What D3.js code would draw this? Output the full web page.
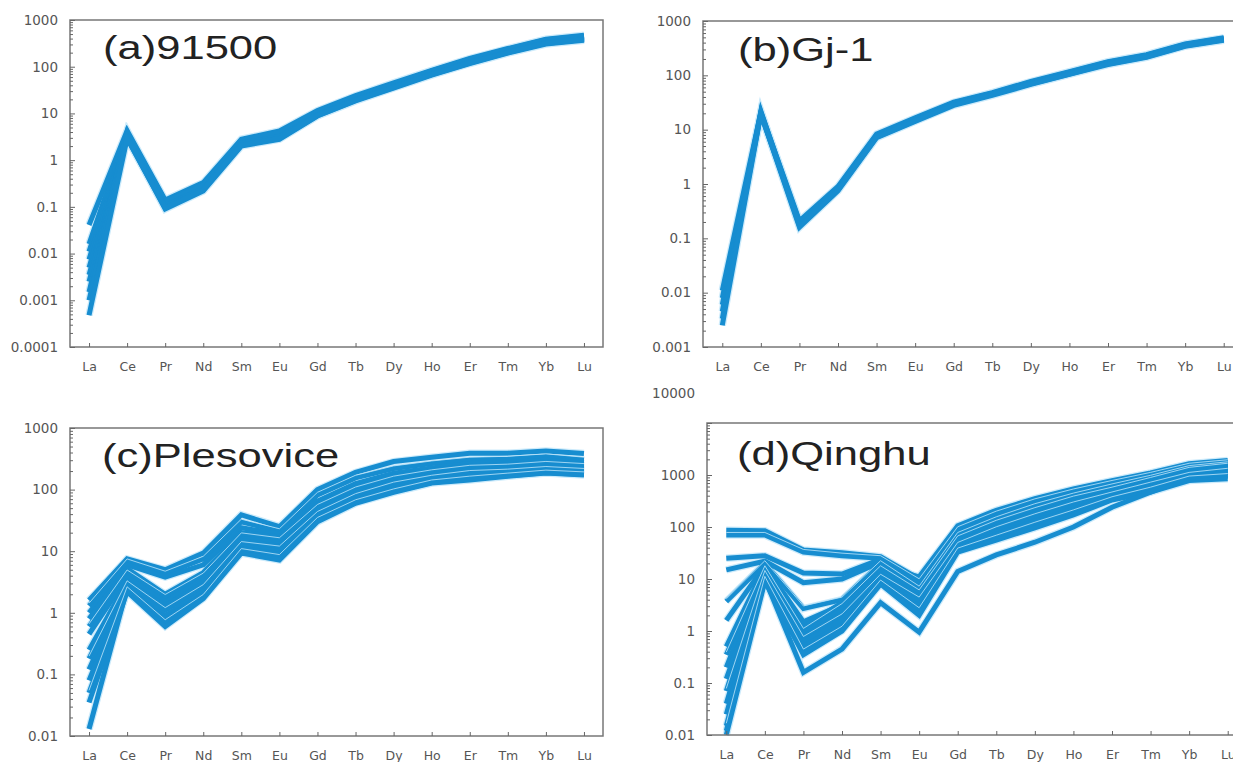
<!DOCTYPE html>
<html>
<head>
<meta charset="utf-8">
<script src="https://cdn.jsdelivr.net/npm/d3@7"></script>
<style>
  body { margin: 0; background: #fff; }
  svg { display: block; }
  .axis text { font-family: "DejaVu Sans", sans-serif; fill: #555; }
  .axis .domain { display: none; }
  .axis line { stroke: #666; }
</style>
</head>
<body>
<div id="chart"></div>
<script>
// REE names along the x axis
const elements = ["La", "Ce", "Pr", "Nd", "Sm", "Eu", "Gd", "Tb", "Dy", "Ho", "Er", "Tm", "Yb", "Lu"];

// y tick labels per panel (log scale)
const ticks91500 = ["0.0001", "0.001", "0.01", "0.1", "1", "10", "100", "1000"];
const ticksGj1 = ["0.001", "0.01", "0.1", "1", "10", "100", "1000"];
const ticksPlesovice = ["0.01", "0.1", "1", "10", "100", "1000"];
const ticksQinghu = ["0.01", "0.1", "1", "10", "100", "1000", "10000"];

// chondrite-normalised values, one row per spot, La..Lu
const zircon91500 = [
    [0.041, 4.3, 0.14, 0.33, 2.8, 4.2, 11.5, 24, 45, 84, 150, 245, 390, 470],
    [0.016, 3.9, 0.13, 0.30, 2.6, 3.8, 10.8, 22.5, 42, 80, 142, 232, 370, 445],
    [0.011, 3.7, 0.12, 0.28, 2.5, 3.6, 10.3, 21.5, 40, 76, 135, 222, 352, 425],
    [0.0075, 3.5, 0.11, 0.26, 2.3, 3.3, 9.8, 20.5, 38, 72, 128, 212, 335, 405],
    [0.005, 3.3, 0.10, 0.24, 2.2, 3.1, 9.3, 19.5, 36.5, 69, 122, 203, 320, 385],
    [0.0035, 3.0, 0.09, 0.22, 2.0, 2.8, 8.8, 18.5, 35, 66, 117, 195, 305, 370],
    [0.0025, 3.6, 0.12, 0.27, 2.4, 3.5, 10, 21, 40, 75, 133, 220, 350, 420],
    [0.0015, 4.0, 0.13, 0.29, 2.7, 3.9, 11, 23, 43, 81, 145, 238, 380, 455],
    [0.001, 3.2, 0.105, 0.25, 2.3, 3.2, 9.5, 20, 38, 71, 126, 208, 330, 400],
    [0.00048, 2.9, 0.095, 0.23, 2.1, 2.9, 9, 19, 36, 68, 120, 200, 315, 380]
];

const zirconGj1 = [
    [0.011, 21, 0.21, 0.90, 8.3, 16.5, 32, 48, 77, 117, 178, 240, 380, 490],
    [0.008, 20, 0.20, 0.86, 8.0, 16, 31, 47, 75, 114, 174, 235, 372, 480],
    [0.006, 19, 0.19, 0.82, 7.7, 15.5, 30, 46, 73, 111, 170, 230, 365, 470],
    [0.0045, 22, 0.18, 0.80, 7.5, 15, 29.5, 45, 71, 108, 166, 225, 358, 460],
    [0.0033, 20.5, 0.17, 0.78, 7.3, 14.6, 29, 44, 70, 106, 162, 220, 350, 450],
    [0.0025, 19.5, 0.16, 0.75, 7.1, 14.2, 28, 43, 68, 104, 158, 215, 343, 440]
];

const plesovice = [
    [1.6, 7.5, 5.0, 9.3, 39, 25, 100, 190, 285, 335, 390, 390, 425, 385],
    [1.3, 6.8, 4.3, 7.5, 30, 21, 82, 155, 220, 265, 305, 315, 345, 305],
    [1.0, 6.0, 3.8, 6.0, 24, 19, 65, 125, 185, 225, 265, 275, 300, 275],
    [0.8, 5.2, 2.0, 4.5, 20, 17, 58, 110, 165, 205, 245, 250, 280, 255],
    [0.6, 4.5, 1.8, 4.0, 18, 15, 52, 100, 150, 190, 225, 235, 260, 240],
    [0.45, 3.8, 1.5, 3.5, 16, 14, 48, 92, 140, 175, 210, 220, 245, 225],
    [0.25, 3.2, 1.3, 3.0, 15, 12, 44, 85, 130, 165, 200, 205, 230, 212],
    [0.18, 3.0, 1.1, 2.6, 13, 11, 40, 78, 120, 155, 185, 195, 215, 200],
    [0.12, 2.8, 0.9, 2.2, 12, 10, 37, 72, 110, 145, 170, 180, 205, 190],
    [0.08, 2.6, 0.8, 2.0, 11, 9, 34, 66, 100, 135, 160, 172, 195, 182],
    [0.05, 2.4, 0.7, 1.8, 10, 8, 32, 62, 93, 130, 150, 168, 188, 176],
    [0.035, 2.2, 0.6, 1.7, 9.3, 7.2, 30, 60, 90, 128, 143, 165, 186, 173],
    [0.013, 2.5, 0.75, 2.0, 11, 9, 38, 75, 115, 150, 180, 190, 212, 198]
];

const qinghu = [
    [87, 85, 36, 32, 27, 10, 100, 200, 340, 520, 750, 1050, 1550, 1800],
    [70, 70, 33, 28, 25, 9, 90, 180, 310, 480, 700, 1000, 1500, 1750],
    [25, 28, 13, 12.5, 24, 8, 85, 170, 290, 450, 660, 950, 1450, 1700],
    [15, 22, 8.5, 10, 21, 7, 75, 150, 260, 420, 620, 900, 1400, 1650],
    [3.7, 20, 2.7, 4.0, 20, 6.5, 70, 140, 250, 400, 600, 880, 1350, 1600],
    [1.6, 18, 1.5, 3.2, 18, 6, 65, 130, 230, 380, 570, 850, 1300, 1550],
    [0.5, 17, 1.2, 3.5, 18, 11, 105, 210, 350, 540, 780, 1100, 1650, 1900],
    [0.35, 16, 1.0, 3.0, 16, 5.5, 60, 120, 210, 350, 520, 800, 1250, 1500],
    [0.2, 15, 0.9, 2.6, 14, 5, 55, 110, 190, 320, 480, 750, 1200, 1400],
    [0.12, 14, 0.8, 2.2, 12, 4.5, 50, 100, 175, 300, 450, 700, 1100, 1300],
    [0.07, 13, 0.7, 1.9, 11, 4, 45, 90, 160, 270, 420, 650, 1000, 1200],
    [0.04, 12, 0.6, 1.6, 10, 3.5, 42, 80, 145, 250, 400, 600, 950, 1100],
    [0.025, 11, 0.5, 1.3, 9, 3, 38, 72, 130, 220, 370, 560, 900, 1000],
    [0.015, 10, 0.4, 1.1, 8.5, 2.5, 35, 62, 110, 190, 340, 520, 850, 950],
    [0.01, 9, 0.35, 1.0, 8, 2.0, 33, 56, 96, 170, 330, 470, 780, 850],
    [0.012, 10, 0.16, 0.45, 3.5, 0.95, 14, 29, 51, 100, 240, 470, 900, 1100]
];

// where each of the four plots sits on the page
const panels = [
    { title: "(a)91500", rows: zircon91500, ticks: ticks91500, left: 70, right: 603, top: 20, bottom: 347, tx: 103, ty: 59 },
    { title: "(b)Gj-1", rows: zirconGj1, ticks: ticksGj1, left: 703, right: 1243, top: 21, bottom: 347, tx: 738, ty: 61 },
    { title: "(c)Plesovice", rows: plesovice, ticks: ticksPlesovice, left: 70, right: 603, top: 428, bottom: 736, tx: 102, ty: 467 },
    { title: "(d)Qinghu", rows: qinghu, ticks: ticksQinghu, left: 707, right: 1247, top: 423, bottom: 735, tx: 737, ty: 465 }
];

const svg = d3.select("#chart").append("svg")
    .attr("width", 1233)
    .attr("height", 762);

panels.forEach(p => {
    const width = p.right - p.left;
    const height = p.bottom - p.top;
    const tickValues = p.ticks.map(Number);

    const g = svg.append("g").attr("transform", `translate(${p.left},${p.top})`);

    const x = d3.scalePoint()
        .domain(elements)
        .range([0, width])
        .padding(0.5);

    const y = d3.scaleLog()
        .domain(d3.extent(tickValues))
        .range([height, 0]);

    // the small ticks between decades
    const minor = [];
    tickValues.slice(0, -1).forEach(d => {
        for (let k = 2; k <= 9; k++) minor.push(d * k);
    });

    const line = d3.line()
        .x((d, i) => x(elements[i]))
        .y(d => y(d));

    // pale halo under the whole bundle, then the blue lines on top
    g.append("g").selectAll("path")
        .data(p.rows)
        .join("path")
        .attr("d", line)
        .attr("fill", "none")
        .attr("stroke", "#cdebfb")
        .attr("stroke-width", 7.5);

    g.append("g").selectAll("path")
        .data(p.rows)
        .join("path")
        .attr("d", line)
        .attr("fill", "none")
        .attr("stroke", "#178dd0")
        .attr("stroke-width", 5);

    // the big bundles (c, d) show thin pale seams between some spots
    if (p.rows.length > 12) {
        g.append("g").selectAll("path")
            .data(p.rows.filter((d, i) => i % 3 === 1))
            .join("path")
            .attr("d", line)
            .attr("fill", "none")
            .attr("stroke", "#bfe6fa")
            .attr("stroke-width", 0.8)
            .attr("transform", "translate(0,-2.6)");
    }

    g.append("rect")
        .attr("width", width)
        .attr("height", height)
        .attr("fill", "none")
        .attr("stroke", "#777")
        .attr("stroke-width", 1.5);

    g.append("g")
        .attr("class", "axis")
        .call(d3.axisLeft(y).tickValues(minor).tickSize(-3).tickFormat(""));

    const yAxis = g.append("g")
        .attr("class", "axis")
        .call(d3.axisLeft(y)
            .tickValues(tickValues)
            .tickSize(-5)
            .tickPadding(12)
            .tickFormat((d, i) => p.ticks[i]));
    yAxis.selectAll("text").style("font-size", "13.5px");

    // in (d) the top label sits well above the frame
    yAxis.selectAll(".tick")
        .filter(d => d === 10000)
        .select("text")
        .attr("y", -30);

    g.append("g")
        .attr("class", "axis")
        .attr("transform", `translate(0,${height})`)
        .call(d3.axisBottom(x).tickSize(-4).tickPadding(15))
        .selectAll("text")
        .style("font-size", "12.5px");

    svg.append("text")
        .attr("transform", `translate(${p.tx},${p.ty}) scale(1.32,1)`)
        .attr("font-family", "Liberation Sans, Arial, sans-serif")
        .attr("font-size", 33)
        .attr("fill", "#222")
        .text(p.title);
});
</script>
</body>
</html>
